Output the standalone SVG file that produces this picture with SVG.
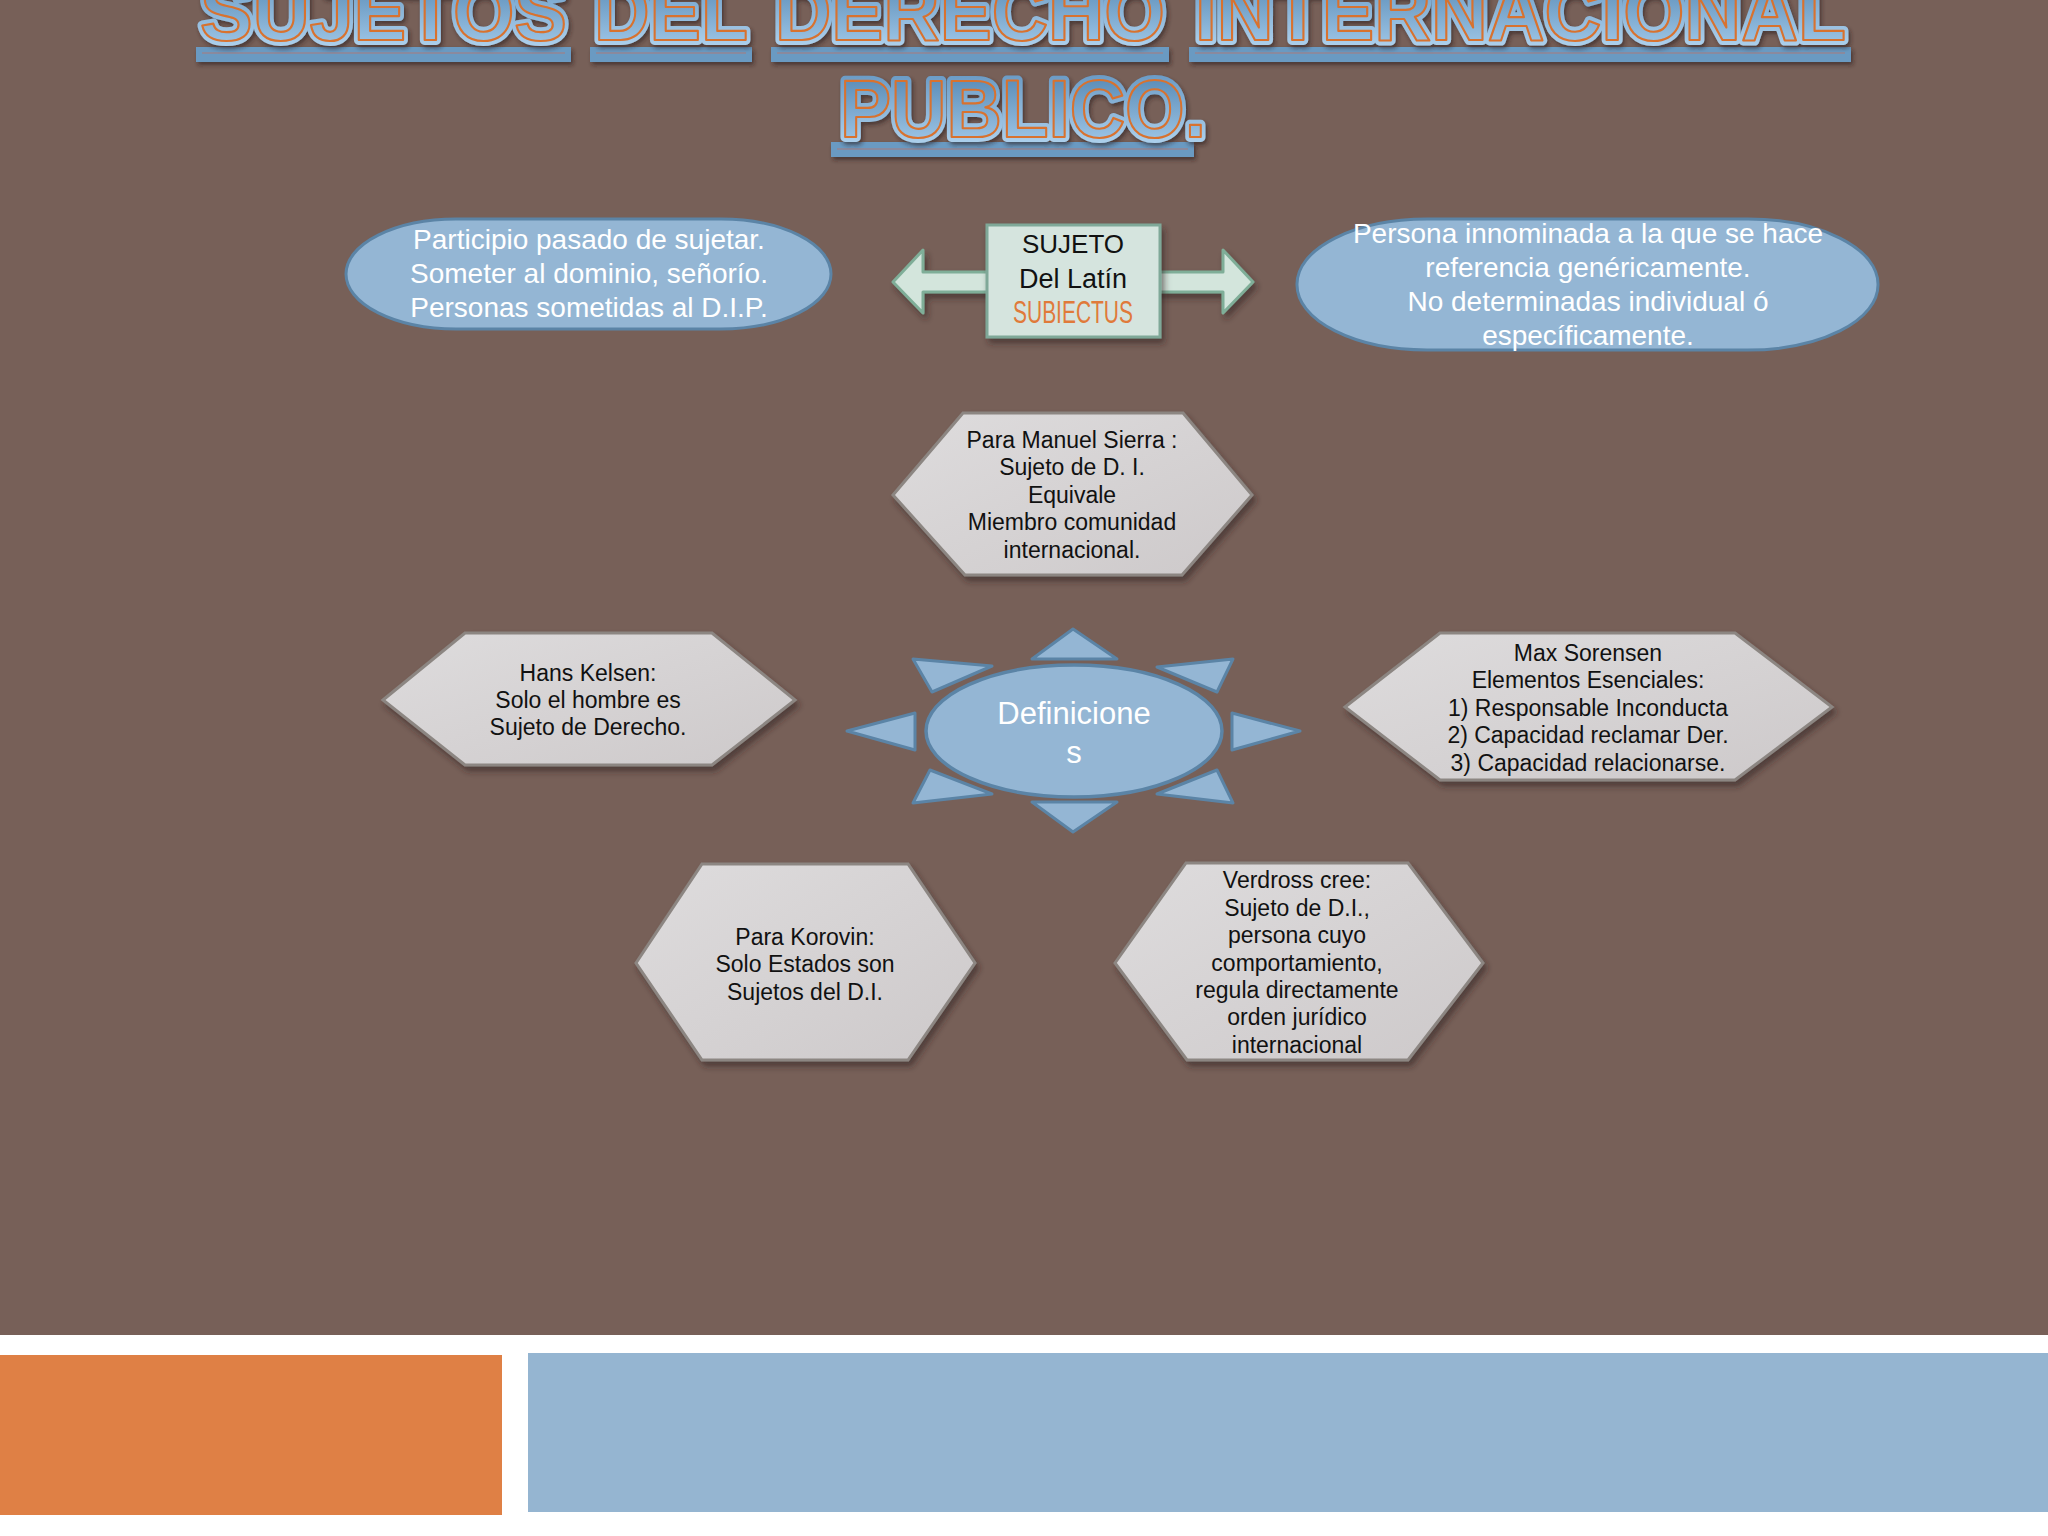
<svg xmlns="http://www.w3.org/2000/svg" width="2048" height="1536" viewBox="0 0 2048 1536">
<defs>
<linearGradient id="tfill" x1="0" y1="0" x2="0" y2="1">
<stop offset="0" stop-color="#4c80ad"/>
<stop offset="1" stop-color="#a9cfee"/>
</linearGradient>
<linearGradient id="trim" x1="0" y1="0" x2="0" y2="1">
<stop offset="0" stop-color="#5f92bf"/>
<stop offset="1" stop-color="#b7d8f2"/>
</linearGradient>
<linearGradient id="hexg" x1="0" y1="0" x2="1" y2="1">
<stop offset="0" stop-color="#dedcdd"/>
<stop offset="1" stop-color="#cdc9ca"/>
</linearGradient>
<filter id="sh" x="-10%" y="-10%" width="130%" height="140%">
<feDropShadow dx="3" dy="5" stdDeviation="3" flood-color="#2e211c" flood-opacity="0.55"/>
</filter>
<filter id="tsh" x="-5%" y="-20%" width="110%" height="150%">
<feDropShadow dx="2" dy="3" stdDeviation="2" flood-color="#2e211c" flood-opacity="0.6"/>
</filter>
</defs>
<style>
.t1{font-family:"Liberation Sans",Arial,sans-serif;font-weight:bold;font-size:82px;stroke:url(#trim);stroke-width:10;stroke-linejoin:round;fill:url(#trim)}
.t2{font-family:"Liberation Sans",Arial,sans-serif;font-weight:bold;font-size:82px;fill:url(#tfill);stroke:#d8722f;stroke-width:2.2;stroke-linejoin:round}
.ul{fill:#6b9ac2}
.uli{stroke:#8a8a9e;stroke-width:2}
.stad{fill:#94b6d4;stroke:#5b84a6;stroke-width:3}
.stxt{font-family:"Liberation Sans",Arial,sans-serif;font-size:28px;fill:#ffffff;text-anchor:middle}
.hex{fill:url(#hexg);stroke:#8c8682;stroke-width:3;filter:url(#sh)}
.htxt{font-family:"Liberation Sans",Arial,sans-serif;font-size:23px;fill:#111111;text-anchor:middle}
.ray{fill:#94b6d4;stroke:#5b84a6;stroke-width:3;stroke-linejoin:round}
</style>
<rect x="0" y="0" width="2048" height="1536" fill="#ffffff"/>
<rect x="0" y="0" width="2048" height="1335" fill="#776058"/>
<rect x="0" y="1355" width="502" height="160" fill="#df8045"/>
<rect x="528" y="1353" width="1520" height="159" fill="#95b5d1"/>

<g id="title">
<g filter="url(#tsh)">
<rect class="ul" x="196" y="47" width="375" height="15"/>
<rect class="ul" x="590" y="47" width="162" height="15"/>
<rect class="ul" x="771" y="47" width="398" height="15"/>
<rect class="ul" x="1189" y="47" width="662" height="15"/>
<rect class="ul" x="831" y="142" width="363" height="15"/>
</g>
<line class="uli" x1="202" y1="53" x2="565" y2="53"/>
<line class="uli" x1="596" y1="53" x2="746" y2="53"/>
<line class="uli" x1="777" y1="53" x2="1163" y2="53"/>
<line class="uli" x1="1195" y1="53" x2="1845" y2="53"/>
<line class="uli" x1="837" y1="149" x2="1188" y2="149"/>
<g filter="url(#tsh)">
<text class="t1" x="200" y="40" textLength="367" lengthAdjust="spacingAndGlyphs">SUJETOS</text>
<text class="t1" x="594" y="40" textLength="154" lengthAdjust="spacingAndGlyphs">DEL</text>
<text class="t1" x="775" y="40" textLength="390" lengthAdjust="spacingAndGlyphs">DERECHO</text>
<text class="t1" x="1195" y="40" textLength="651" lengthAdjust="spacingAndGlyphs">INTERNACIONAL</text>
<text class="t1" x="840" y="137" textLength="366" lengthAdjust="spacingAndGlyphs">PUBLICO.</text>
</g>
<text class="t2" x="200" y="40" textLength="367" lengthAdjust="spacingAndGlyphs">SUJETOS</text>
<text class="t2" x="594" y="40" textLength="154" lengthAdjust="spacingAndGlyphs">DEL</text>
<text class="t2" x="775" y="40" textLength="390" lengthAdjust="spacingAndGlyphs">DERECHO</text>
<text class="t2" x="1195" y="40" textLength="651" lengthAdjust="spacingAndGlyphs">INTERNACIONAL</text>
<text class="t2" x="840" y="137" textLength="366" lengthAdjust="spacingAndGlyphs">PUBLICO.</text>
</g>

<g id="connectors">
<polygon points="893,282 923,250 923,272 1223,272 1223,250 1253,282 1223,313 1223,292 923,292 923,313" fill="#d3e5dc" stroke="#7fae98" stroke-width="3" stroke-linejoin="round" filter="url(#sh)"/>
</g>

<g id="sujeto">
<rect x="987" y="225" width="173" height="112" fill="#d5e4de" stroke="#7fa898" stroke-width="3" filter="url(#sh)"/>
<text x="1073" y="253" font-family="'Liberation Sans',Arial,sans-serif" font-size="26" fill="#111" text-anchor="middle">SUJETO</text>
<text x="1073" y="288" font-family="'Liberation Sans',Arial,sans-serif" font-size="27" fill="#111" text-anchor="middle">Del Latín</text>
<text x="1073" y="323" font-family="'Liberation Sans',Arial,sans-serif" font-size="31" fill="#e07a3a" text-anchor="middle" textLength="120" lengthAdjust="spacingAndGlyphs">SUBIECTUS</text>
</g>

<g id="participio">
<rect class="stad" x="346" y="219" width="485" height="110" rx="110" ry="55"/>
<text class="stxt" x="589" y="249">Participio pasado de sujetar.</text>
<text class="stxt" x="589" y="283">Someter al dominio, señorío.</text>
<text class="stxt" x="589" y="317">Personas sometidas al D.I.P.</text>
</g>

<g id="persona">
<rect class="stad" x="1297" y="219" width="581" height="131" rx="130" ry="65"/>
<text class="stxt" x="1588" y="243">Persona innominada a la que se hace</text>
<text class="stxt" x="1588" y="277">referencia genéricamente.</text>
<text class="stxt" x="1588" y="311">No determinadas individual ó</text>
<text class="stxt" x="1588" y="345">específicamente.</text>
</g>

<g id="sierra">
<polygon class="hex" points="893,495 963,413 1183,413 1252,495 1182,575 965,575"/>
<text class="htxt" x="1072" y="448">Para Manuel Sierra :</text>
<text class="htxt" x="1072" y="475">Sujeto de D. I.</text>
<text class="htxt" x="1072" y="503">Equivale</text>
<text class="htxt" x="1072" y="530">Miembro comunidad</text>
<text class="htxt" x="1072" y="558">internacional.</text>
</g>

<g id="kelsen">
<polygon class="hex" points="383,700 465,633 712,633 795,700 712,765 465,765"/>
<text class="htxt" x="588" y="681">Hans Kelsen:</text>
<text class="htxt" x="588" y="708">Solo el hombre es</text>
<text class="htxt" x="588" y="735">Sujeto de Derecho.</text>
</g>

<g id="sorensen">
<polygon class="hex" points="1345,707 1440,633 1735,633 1832,707 1735,780 1440,780"/>
<text class="htxt" x="1588" y="661">Max Sorensen</text>
<text class="htxt" x="1588" y="688">Elementos Esenciales:</text>
<text class="htxt" x="1588" y="716">1) Responsable Inconducta</text>
<text class="htxt" x="1588" y="743">2) Capacidad reclamar Der.</text>
<text class="htxt" x="1588" y="771">3) Capacidad relacionarse.</text>
</g>

<g id="korovin">
<polygon class="hex" points="636,963 702,864 908,864 975,963 908,1060 702,1060"/>
<text class="htxt" x="805" y="945">Para Korovin:</text>
<text class="htxt" x="805" y="972">Solo Estados son</text>
<text class="htxt" x="805" y="1000">Sujetos del D.I.</text>
</g>

<g id="verdross">
<polygon class="hex" points="1115,963 1186,863 1408,863 1483,963 1408,1060 1187,1060"/>
<text class="htxt" x="1297" y="888">Verdross cree:</text>
<text class="htxt" x="1297" y="916">Sujeto de D.I.,</text>
<text class="htxt" x="1297" y="943">persona cuyo</text>
<text class="htxt" x="1297" y="971">comportamiento,</text>
<text class="htxt" x="1297" y="998">regula directamente</text>
<text class="htxt" x="1297" y="1025">orden jurídico</text>
<text class="htxt" x="1297" y="1053">internacional</text>
</g>

<g id="definiciones">
<polygon class="ray" points="1032,659 1073,629 1117,659"/>
<polygon class="ray" points="1032,802 1117,802 1073,832"/>
<polygon class="ray" points="915,713 847,731 915,750"/>
<polygon class="ray" points="1232,713 1300,731 1232,750"/>
<polygon class="ray" points="913,659 992,666 932,692"/>
<polygon class="ray" points="1233,659 1157,667 1217,692"/>
<polygon class="ray" points="913,803 992,794 930,770"/>
<polygon class="ray" points="1233,803 1157,794 1217,770"/>
<ellipse cx="1074" cy="731" rx="148" ry="66" fill="#94b6d4" stroke="#5b84a6" stroke-width="3.5"/>
<text x="1074" y="724" font-family="'Liberation Sans',Arial,sans-serif" font-size="31" fill="#ffffff" text-anchor="middle">Definicione</text>
<text x="1074" y="763" font-family="'Liberation Sans',Arial,sans-serif" font-size="31" fill="#ffffff" text-anchor="middle">s</text>
</g>
</svg>
